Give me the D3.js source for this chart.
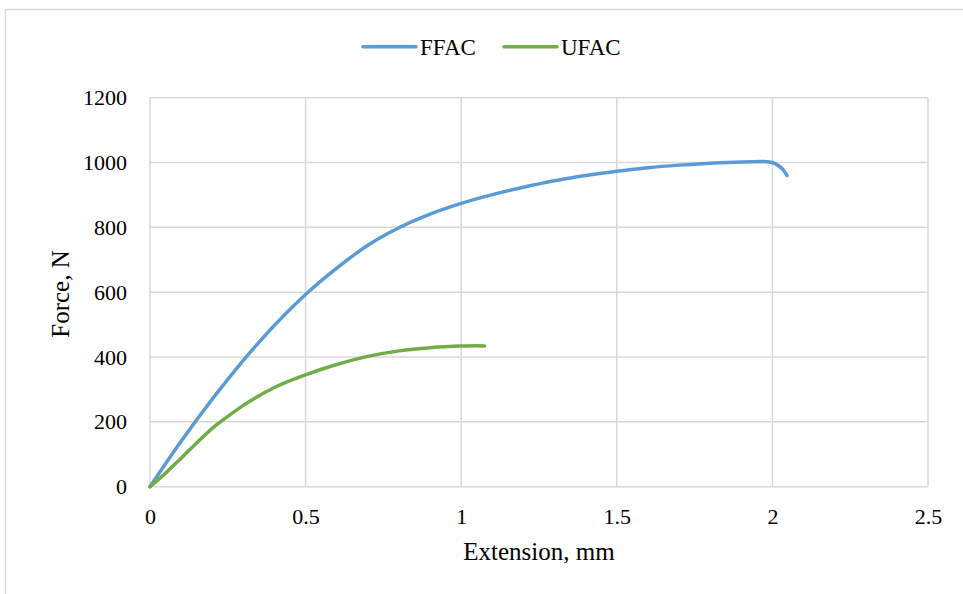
<!DOCTYPE html>
<html>
<head>
<meta charset="utf-8">
<script src="https://cdn.jsdelivr.net/npm/d3@7"></script>
<style>
  body { margin: 0; background: #fff; }
  text { font-family: "Liberation Serif", "Times New Roman", serif; fill: #000; }
</style>
</head>
<body>
<div id="chart"></div>
<script>
// Series names
var seriesNames = ["FFAC", "UFAC"];

// FFAC: extension (mm) and force (N)
var ffacExt = [0, 0.1, 0.2, 0.3, 0.4, 0.5, 0.6, 0.7, 0.8, 0.9, 1.0, 1.1, 1.2, 1.3, 1.4, 1.5, 1.6, 1.7, 1.8, 1.9, 1.97, 2.0, 2.02, 2.035, 2.047];
var ffacForce = [0, 140, 270, 390, 498, 593, 674, 745, 799, 841, 874, 901, 924, 944, 960, 973, 984, 992, 998, 1002, 1003, 1000, 990, 977, 960];

// UFAC: extension (mm) and force (N)
var ufacExt = [0, 0.05, 0.1, 0.15, 0.2, 0.25, 0.3, 0.4, 0.5, 0.6, 0.7, 0.8, 0.9, 1.0, 1.05, 1.075];
var ufacForce = [0, 42, 88, 135, 180, 217, 251, 306, 345, 377, 402, 419, 429, 434, 435, 434];

// Tick values
var xTicks = [0, 0.5, 1, 1.5, 2, 2.5];
var yTicks = [0, 200, 400, 600, 800, 1000, 1200];

var colors = ["#5B9BD5", "#70AD47"];

var svgWidth = 963;
var svgHeight = 594;

var margin = { top: 97.7, right: 35, bottom: 107.3, left: 150 };
var width = svgWidth - margin.left - margin.right;
var height = svgHeight - margin.top - margin.bottom;

var svg = d3.select("#chart")
  .append("svg")
  .attr("width", svgWidth)
  .attr("height", svgHeight);

// outer chart border (runs off the right and bottom edge)
svg.append("rect")
  .attr("x", 5.5)
  .attr("y", 9.5)
  .attr("width", 1000)
  .attr("height", 700)
  .attr("fill", "#fff")
  .attr("stroke", "#D9D9D9")
  .attr("stroke-width", 1.5);

var chartGroup = svg.append("g")
  .attr("transform", `translate(${margin.left}, ${margin.top})`);

// scales
var xScale = d3.scaleLinear().domain([0, 2.5]).range([0, width]);
var yScale = d3.scaleLinear().domain([0, 1200]).range([height, 0]);

// gridlines
chartGroup.append("g")
  .selectAll("line")
  .data(yTicks)
  .enter()
  .append("line")
  .attr("x1", 0)
  .attr("x2", width)
  .attr("y1", d => yScale(d))
  .attr("y2", d => yScale(d))
  .attr("stroke", "#D9D9D9")
  .attr("stroke-width", 1.5);

chartGroup.append("g")
  .selectAll("line")
  .data(xTicks)
  .enter()
  .append("line")
  .attr("x1", d => xScale(d))
  .attr("x2", d => xScale(d))
  .attr("y1", 0)
  .attr("y2", height)
  .attr("stroke", "#D9D9D9")
  .attr("stroke-width", 1.5);

// axes (labels only)
var bottomAxis = d3.axisBottom(xScale).tickValues(xTicks).tickSize(0).tickPadding(22).tickFormat(d3.format("~g"));
var leftAxis = d3.axisLeft(yScale).tickValues(yTicks).tickSize(0).tickPadding(23).tickFormat(d3.format("d"));

var xAxisG = chartGroup.append("g")
  .attr("transform", `translate(0, ${height})`)
  .call(bottomAxis);
var yAxisG = chartGroup.append("g").call(leftAxis);

[xAxisG, yAxisG].forEach(function(g) {
  g.select(".domain").remove();
  g.attr("font-family", null);
  g.selectAll("text")
    .attr("font-size", "22px")
    .attr("fill", "#000");
});

// lines
var line = d3.line()
  .x(d => xScale(d[0]))
  .y(d => yScale(d[1]))
  .curve(d3.curveMonotoneX);

var series = [
  ffacExt.map((x, i) => [x, ffacForce[i]]),
  ufacExt.map((x, i) => [x, ufacForce[i]])
];

chartGroup.selectAll(".series")
  .data(series)
  .enter()
  .append("path")
  .attr("class", "series")
  .attr("d", line)
  .attr("fill", "none")
  .attr("stroke", (d, i) => colors[i])
  .attr("stroke-width", 3.5)
  .attr("stroke-linecap", "round")
  .attr("stroke-linejoin", "round");

// axis titles
svg.append("text")
  .attr("x", margin.left + width / 2)
  .attr("y", 560)
  .attr("text-anchor", "middle")
  .attr("font-size", "25px")
  .text("Extension, mm");

svg.append("text")
  .attr("transform", "translate(69, 294) rotate(-90)")
  .attr("text-anchor", "middle")
  .attr("font-size", "25px")
  .text("Force, N");

// legend
var legendX = [363, 504];
var legend = svg.selectAll(".legend")
  .data(seriesNames)
  .enter()
  .append("g")
  .attr("class", "legend")
  .attr("transform", (d, i) => `translate(${legendX[i]}, 46.7)`);

legend.append("line")
  .attr("x1", 0)
  .attr("x2", 53)
  .attr("stroke", (d, i) => colors[i])
  .attr("stroke-width", 3.5)
  .attr("stroke-linecap", "round");

legend.append("text")
  .attr("x", 57)
  .attr("y", 8)
  .attr("font-size", "23px")
  .text(d => d);
</script>
</body>
</html>
